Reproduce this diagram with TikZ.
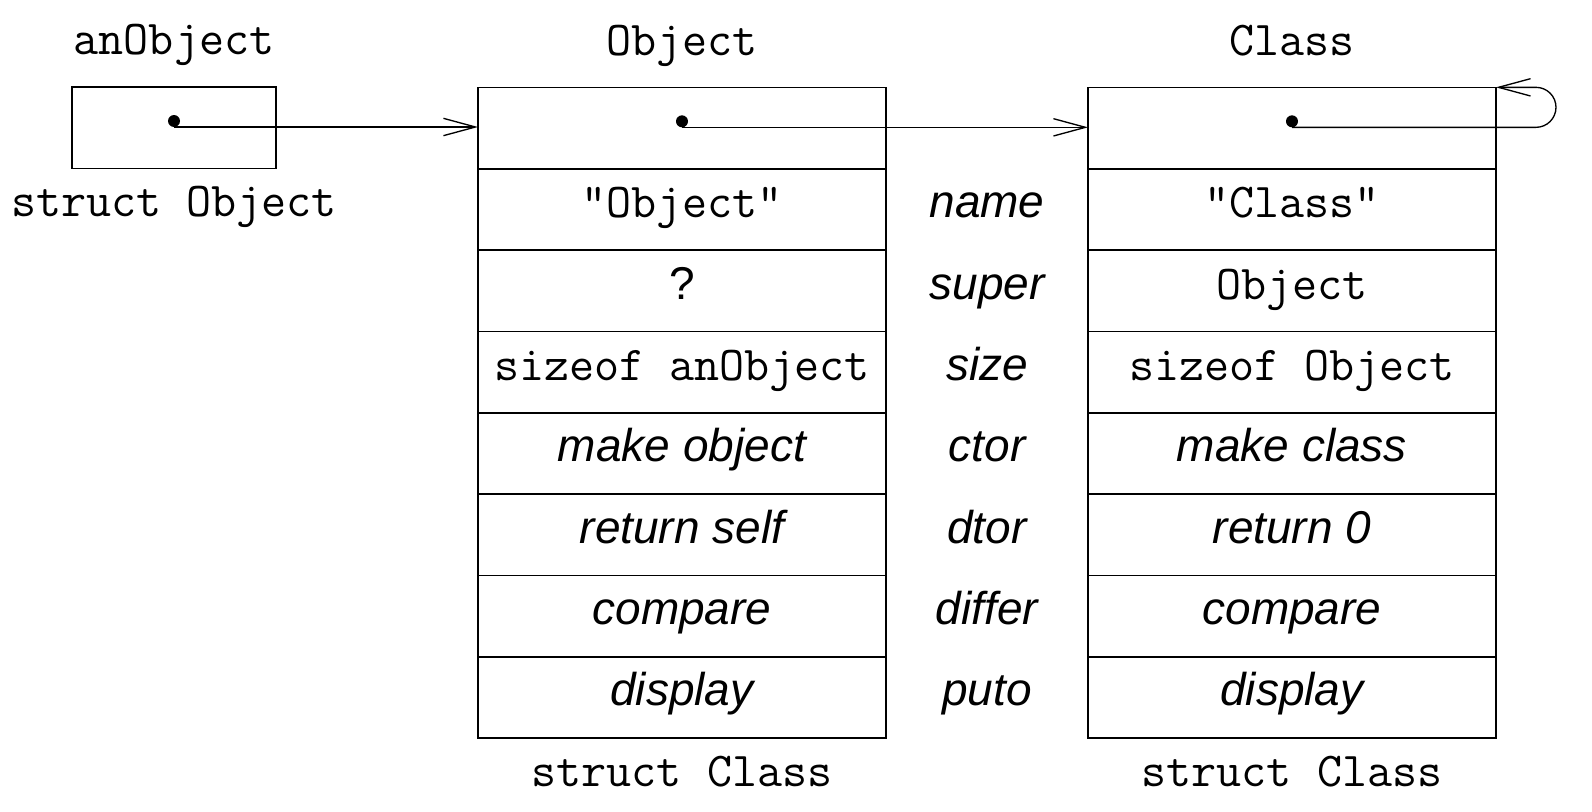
\documentclass[tikz,border=0pt]{standalone}
\usepackage{fontspec}
\setsansfont{Liberation Sans}
\usepackage{tikz}
\usetikzlibrary{positioning,arrows.meta}
\tikzstyle{every node}=[inner sep=0pt,outer sep=0pt]
\tikzstyle{cell}=[draw=black,line width=0.5pt,minimum width=122.4pt,minimum height=24.4pt,text height=8pt,text depth=2.9pt]
\tikzstyle{code}=[font=\fontsize{14.6}{16}\selectfont\ttfamily]
\tikzstyle{prose}=[font=\fontsize{13.8}{16}\selectfont\sffamily\itshape]
\tikzstyle{plain}=[font=\fontsize{13.8}{16}\selectfont\sffamily]
\tikzstyle{field}=[prose,minimum width=60.6pt,text height=8pt,text depth=2.9pt]
\tikzstyle{dot}=[circle,fill=black,minimum size=3.6pt]
\tikzstyle{pointer}=[line width=0.4pt,-{Straight Barb[length=9.6pt,width=5.2pt]}]

\begin{document}
\begin{tikzpicture}
  \useasboundingbox (0,0) rectangle (477.6pt,-243.6pt);

  % the object itself
  \node[cell,minimum width=61.2pt,anchor=north west] (anobj) at (21.6pt,-26.1pt) {};
  \node[dot] (anobjdot) at ([yshift=2pt]anobj.center) {};
  \node[code,anchor=base] (anobjname) at ([yshift=9.7pt]anobj.north) {anObject};
  \node[code,anchor=base] (anobjtype) at ([yshift=-14.3pt]anobj.south) {struct Object};

  % its class description
  \node[cell,anchor=north west] (obj0) at (143.4pt,-26.2pt) {};
  \node[cell,code,below=0pt of obj0] (obj1) {"Object"};
  \node[cell,plain,below=0pt of obj1] (obj2) {?};
  \node[cell,code,below=0pt of obj2] (obj3) {sizeof anObject};
  \node[cell,prose,below=0pt of obj3] (obj4) {make object};
  \node[cell,prose,below=0pt of obj4] (obj5) {return self};
  \node[cell,prose,below=0pt of obj5] (obj6) {compare};
  \node[cell,prose,below=0pt of obj6] (obj7) {display};
  \node[dot] (objdot) at ([yshift=2pt]obj0.center) {};
  \node[code,anchor=base] (objname) at ([yshift=9.7pt]obj0.north) {Object};
  \node[code,anchor=base] (objtype) at ([yshift=-14.4pt]obj7.south) {struct Class};

  % component names
  \node[field,right=0pt of obj1] (name) {name};
  \node[field,right=0pt of obj2] (super) {super};
  \node[field,right=0pt of obj3] (size) {size};
  \node[field,right=0pt of obj4] (ctor) {ctor};
  \node[field,right=0pt of obj5] (dtor) {dtor};
  \node[field,right=0pt of obj6] (differ) {differ};
  \node[field,right=0pt of obj7] (puto) {puto};

  % the metaclass
  \node[cell,right=60.6pt of obj0] (cls0) {};
  \node[cell,code,below=0pt of cls0] (cls1) {"Class"};
  \node[cell,code,below=0pt of cls1] (cls2) {Object};
  \node[cell,code,below=0pt of cls2] (cls3) {sizeof Object};
  \node[cell,prose,below=0pt of cls3] (cls4) {make class};
  \node[cell,prose,below=0pt of cls4] (cls5) {return 0};
  \node[cell,prose,below=0pt of cls5] (cls6) {compare};
  \node[cell,prose,below=0pt of cls6] (cls7) {display};
  \node[dot] (clsdot) at ([yshift=2pt]cls0.center) {};
  \node[code,anchor=base] (clsname) at ([yshift=9.7pt]cls0.north) {Class};
  \node[code,anchor=base] (clstype) at ([yshift=-14.4pt]cls7.south) {struct Class};

  % pointers
  \draw[pointer] (anobjdot.south) -- (anobjdot.south -| obj0.west);
  \draw[pointer] (objdot.south) -- (objdot.south -| cls0.west);
  \draw[pointer,rounded corners=6pt] (clsdot.south) -- ++(79.2pt,0) |- (cls0.north east);
\end{tikzpicture}
\end{document}
